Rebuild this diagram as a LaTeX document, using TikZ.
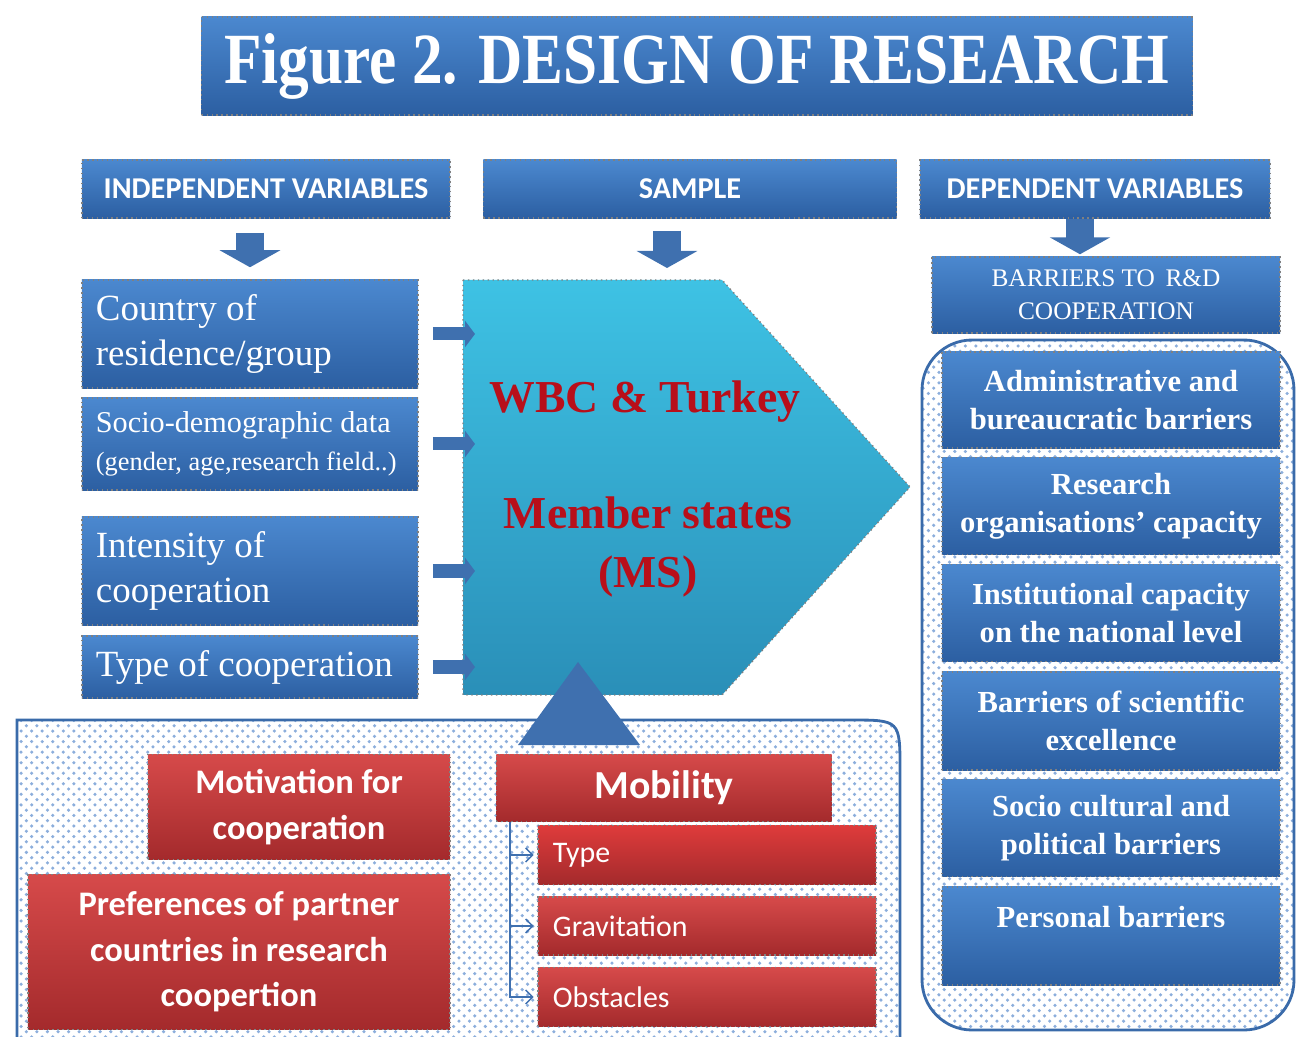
\documentclass[tikz,border=0pt]{standalone}
\usepackage{fontspec}
\setmainfont{Liberation Serif}
\setsansfont{Carlito}
\newfontfamily\titlefont[FakeStretch=0.85]{Liberation Serif}
\usetikzlibrary{arrows.meta}
\usetikzlibrary{patterns}
\definecolor{box-top}{HTML}{4B88CF}
\definecolor{box-bot}{HTML}{2C5FA2}
\definecolor{arrow-blue}{HTML}{3F70AF}
\definecolor{frame-blue}{HTML}{3A6BAA}
\definecolor{dot-blue}{HTML}{8CAEDC}
\definecolor{red-top}{HTML}{D64A4A}
\definecolor{red-bot}{HTML}{A42A2C}
\definecolor{sample-top}{HTML}{3EC2E4}
\definecolor{sample-bot}{HTML}{2A8FB8}
\definecolor{sample-text}{HTML}{B80F1A}

\begin{document}
\begin{tikzpicture}[x=0.01cm, y=-0.01cm,
  bluebox/.style={draw=black!50, densely dotted, top color=box-top, bottom color=box-bot, text=white, inner sep=0pt},
  header/.style={bluebox, font=\sffamily\bfseries\fontsize{8.6}{11}\selectfont},
  varbox/.style={bluebox, minimum width=3.36cm, text width=3.08cm, inner xsep=0.14cm, align=flush left, font=\fontsize{10.5}{12.8}\selectfont},
  barrier/.style={bluebox, minimum width=3.38cm, align=center, font=\bfseries\fontsize{8.7}{10.8}\selectfont},
  redbox/.style={draw=black!50, densely dotted, top color=red-top, bottom color=red-bot, text=white, inner sep=0pt, align=center, font=\sffamily\bfseries\fontsize{9.8}{13}\selectfont},
  subbox/.style={redbox, minimum width=3.38cm, text width=3.08cm, inner xsep=0.15cm, align=flush left, font=\sffamily\fontsize{8.5}{10}\selectfont},
  sampletext/.style={text=sample-text, align=center, font=\bfseries\fontsize{13}{17}\selectfont},
  bigarrow/.style={draw=arrow-blue, line width=0.28cm, -{Triangle[width=0.6cm, length=0.17cm]}},
  smallarrow/.style={draw=arrow-blue, line width=0.13cm, -{Triangle[width=0.26cm, length=0.1cm]}},
  tree/.style={draw=arrow-blue, line width=0.4pt, -{Straight Barb[length=2pt]}, shorten >=1pt},
  frame/.style={draw=frame-blue, line width=0.8pt, pattern=crosshatch dots, pattern color=dot-blue}
]
\useasboundingbox (0,0) rectangle (1297,1037);

% dotted frames behind the boxes
\path[frame] (17,1037) -- (17,720) -- (850,720) .. controls (900,720) .. (900,770) -- (900,1037);
\path[frame, rounded corners=0.5cm] (922,340) rectangle (1294,1030);

\node[bluebox, minimum width=9.9cm, minimum height=0.98cm, font=\titlefont\bfseries\fontsize{20.5}{24}\selectfont] (title) at (697,66) {Figure 2. DESIGN OF RESEARCH};

\node[header, minimum width=3.68cm, minimum height=0.58cm] (indep) at (266,189) {INDEPENDENT VARIABLES};
\node[header, minimum width=4.13cm, minimum height=0.58cm] (samplehd) at (690,189) {SAMPLE};
\node[header, minimum width=3.50cm, minimum height=0.58cm] (dep) at (1095,189) {DEPENDENT VARIABLES};

% independent variables
\node[varbox, minimum height=1.08cm] (country) at (250,334) {Country of\\residence/group};
\node[varbox, minimum height=0.92cm, font=\fontsize{8.6}{11}\selectfont] (socio) at (250,444) {Socio-demographic data\\{\fontsize{7.5}{11}\selectfont(gender, age,research field..)}};
\node[varbox, minimum height=1.08cm] (intens) at (250,571) {Intensity of\\cooperation};
\node[varbox, minimum height=0.62cm] (typecoop) at (250,667) {Type of cooperation};

% sample
\path[top color=sample-top, bottom color=sample-bot, draw=black!50, densely dotted] (463,280) -- (722,280) -- (910,487) -- (722,695) -- (463,695) -- cycle;
\coordinate (sample-w) at (463,487);
\coordinate (sample-n) at (667,280);
\node[sampletext] (wbc) at (645,402) {WBC \& Turkey};
\node[sampletext] (ms) at (648,547) {Member states\\(MS)};

% dependent variables
\node[bluebox, minimum width=3.48cm, minimum height=0.76cm, align=center, font=\fontsize{7.2}{9.5}\selectfont] (barriers) at (1106,295) {BARRIERS TO\, R\&D\\COOPERATION};
\node[barrier, minimum height=0.96cm] (admin) at (1111,400) {Administrative and\\bureaucratic barriers};
\node[barrier, minimum height=0.97cm] (resorg) at (1111,506) {Research\\organisations' capacity};
\node[barrier, minimum height=0.97cm] (inst) at (1111,613) {Institutional capacity\\on the national level};
\node[barrier, minimum height=0.98cm] (excel) at (1111,721) {Barriers of scientific\\excellence};
\node[barrier, minimum height=0.97cm] (socult) at (1111,828) {Socio cultural and\\political barriers};
\node[barrier, minimum height=0.98cm] (personal) at (1111,936) {Personal barriers\\\mbox{}};

% factors below the sample
\node[redbox, minimum width=3.02cm, minimum height=1.05cm] (motiv) at (299,807) {Motivation for\\cooperation};
\node[redbox, minimum width=4.22cm, minimum height=1.55cm] (pref) at (239,952) {Preferences of partner\\countries in research\\coopertion};
\node[redbox, minimum width=3.35cm, minimum height=0.67cm, font=\sffamily\bfseries\fontsize{11.3}{13}\selectfont] (mobility) at (664,788) {Mobility};
\node[subbox, minimum height=0.59cm, top color=red-top!80!red] (type) at (707,855) {Type};
\node[subbox, minimum height=0.58cm] (grav) at (707,926) {Gravitation};
\node[subbox, minimum height=0.59cm] (obst) at (707,997) {Obstacles};
\fill[arrow-blue] (518,745) -- (578,662) -- (640,745) -- cycle;

% arrows
\draw[bigarrow, shorten <=0.14cm, shorten >=0.12cm] (country.north |- indep.south) -- (country.north);
\draw[bigarrow, shorten <=0.12cm, shorten >=0.12cm] (sample-n |- samplehd.south) -- (sample-n);
\draw[bigarrow, shorten >=0.02cm] ([xshift=-0.15cm]dep.south) -- ([xshift=-0.15cm]dep.south |- barriers.north);
\foreach \v in {country, socio, intens, typecoop}
  \draw[smallarrow, shorten <=0.14cm, shorten >=-0.12cm] (\v.east) -- (\v.east -| sample-w);
\coordinate (mob-split) at (510,822);
\foreach \v in {type, grav, obst}
  \draw[tree] (mob-split) |- (\v.west);
\end{tikzpicture}
\end{document}
